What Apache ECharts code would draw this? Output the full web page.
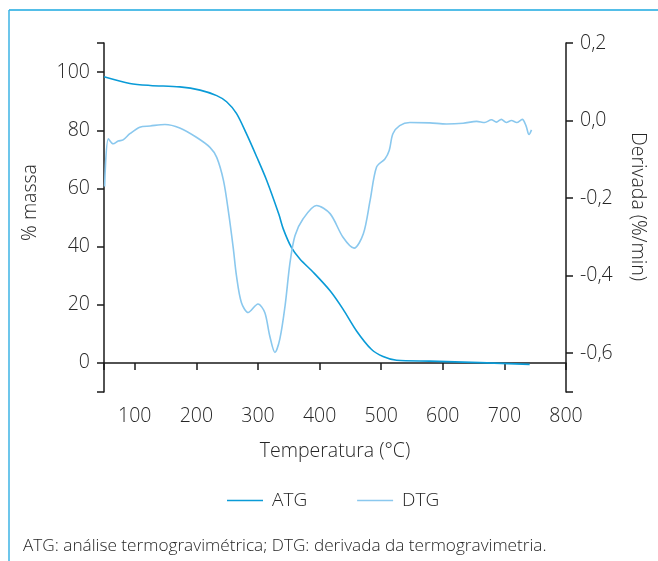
<!DOCTYPE html>
<html>
<head>
<meta charset="utf-8">
<script src="https://cdn.jsdelivr.net/npm/echarts@6/dist/echarts.min.js"></script>
<style>
html,body{margin:0;padding:0;background:#fff;}
#chart{width:658px;height:561px;}
</style>
</head>
<body>
<div id="chart"></div>
<script>
// Temperature (°C) and mass (%) for ATG
const tempATG = [50, 92, 125, 173, 206, 233, 249, 265, 281, 298, 314, 334, 341, 354, 368, 390, 417, 438, 460, 484, 503, 525, 579, 660, 741];
const massATG = [98.4, 96.1, 95.4, 94.9, 93.8, 91.9, 89.8, 85.8, 78.9, 70.8, 62.8, 51.0, 46.1, 39.8, 35.7, 31.1, 24.8, 18.5, 11.0, 4.7, 2.2, 0.9, 0.6, 0.1, -0.5];

// Temperature (°C) and derivative (%/min) for DTG
const tempDTG = [51, 57, 65, 73, 81, 92, 108, 125, 149, 173, 200, 222, 233, 244, 252, 260, 265, 273, 284, 300, 311, 319, 327.5, 335.5, 344, 352, 360, 373, 395, 417, 438, 456, 471, 482, 492.5, 506, 513, 519, 530, 546.5, 579, 606, 633, 655, 668, 679, 687, 695, 703, 711.5, 720, 729, 735, 740, 744];
const derivDTG = [-0.17, -0.047, -0.060, -0.053, -0.050, -0.034, -0.017, -0.014, -0.010, -0.019, -0.043, -0.069, -0.095, -0.155, -0.235, -0.331, -0.400, -0.469, -0.495, -0.473, -0.495, -0.555, -0.598, -0.563, -0.477, -0.366, -0.297, -0.254, -0.219, -0.240, -0.301, -0.329, -0.292, -0.206, -0.120, -0.099, -0.077, -0.034, -0.013, -0.005, -0.006, -0.009, -0.007, -0.002, -0.005, 0.002, -0.004, 0.003, -0.005, 0.000, -0.005, 0.003, -0.013, -0.036, -0.024];

// Axis ticks and labels
const xTicks = [50, 100, 200, 300, 400, 500, 600, 700, 800];
const xLabels = [100, 200, 300, 400, 500, 600, 700, 800];
const yLeftTicks = [-10, 0, 20, 40, 60, 80, 100, 110];
const yLeftLabels = [0, 20, 40, 60, 80, 100];
const yRightTicks = [-0.7, -0.6, -0.4, -0.2, 0, 0.2];
const yRightLabels = [-0.6, -0.4, -0.2, 0, 0.2];

const seriesNames = ['ATG', 'DTG'];
const footnote = 'ATG: análise termogravimétrica; DTG: derivada da termogravimetria.';

const FONT = '"Open Sans"';
const TXT = '#262626';
const AXIS = '#1a1a1a';
const W = 300;

const chart = echarts.init(document.getElementById('chart'), null, {renderer: 'canvas'});

const axisCommon = {
  axisLine: {show: true, lineStyle: {color: AXIS, width: 1.5}},
  splitLine: {show: false},
  axisLabel: {color: TXT, fontSize: 19.5, fontFamily: FONT, fontWeight: W, margin: 14},
  nameTextStyle: {color: TXT, fontSize: 19.5, fontFamily: FONT, fontWeight: W}
};

const option = {
  animation: false,
  backgroundColor: '#ffffff',
  textStyle: {fontFamily: FONT},
  title: {
    text: footnote,
    left: 18,
    top: 533,
    textStyle: {color: TXT, fontSize: 17.2, fontFamily: FONT, fontWeight: W}
  },
  legend: {
    data: seriesNames,
    icon: 'rect',
    left: 222,
    top: 486,
    itemWidth: 36,
    itemHeight: 1.5,
    itemGap: 50,
    textStyle: {color: TXT, fontSize: 19, fontFamily: FONT, fontWeight: W, padding: [0, 0, 0, 4]}
  },
  grid: {
    left: 104, right: 92, top: 43, bottom: 169,
    containLabel: false,
    outerBoundsMode: 'none'
  },
  xAxis: {
    type: 'value',
    min: 50, max: 800,
    name: 'Temperatura (°C)',
    nameLocation: 'middle',
    nameGap: 49,
    ...axisCommon,
    axisTick: {show: true, inside: false, length: 7, lineStyle: {color: AXIS, width: 1.5}, customValues: xTicks},
    axisLabel: {...axisCommon.axisLabel, customValues: xLabels}
  },
  yAxis: [
    {
      type: 'value',
      position: 'left',
      min: -10, max: 110,
      name: '% massa',
      nameLocation: 'middle',
      nameGap: 64,
      ...axisCommon,
      nameTextStyle: {...axisCommon.nameTextStyle, padding: [0, 0, 0, 30]},
      axisTick: {show: true, inside: false, length: 7, lineStyle: {color: AXIS, width: 1.5}, customValues: yLeftTicks},
      axisLabel: {...axisCommon.axisLabel, customValues: yLeftLabels}
    },
    {
      type: 'value',
      position: 'right',
      min: -0.7, max: 0.2,
      name: 'Derivada (%/min)',
      nameLocation: 'middle',
      nameRotate: -90,
      nameGap: 62,
      ...axisCommon,
      nameTextStyle: {...axisCommon.nameTextStyle, padding: [0, 22, 0, 0]},
      axisTick: {show: true, inside: false, length: 7, lineStyle: {color: AXIS, width: 1.5}, customValues: yRightTicks},
      axisLabel: {
        ...axisCommon.axisLabel,
        customValues: yRightLabels,
        formatter: function (v) {
          const r = Math.round(v * 10) / 10;
          return (r === 0 ? '0.0' : r.toFixed(1)).replace('.', ',');
        }
      }
    }
  ],
  series: [
    {
      name: seriesNames[0],
      type: 'line',
      yAxisIndex: 0,
      symbol: 'none',
      smooth: 0.3,
      lineStyle: {color: '#0a9bd7', width: 1.6},
      itemStyle: {color: '#0a9bd7'},
      data: tempATG.map((t, i) => [t, massATG[i]])
    },
    {
      name: seriesNames[1],
      type: 'line',
      yAxisIndex: 1,
      symbol: 'none',
      smooth: 0.3,
      lineStyle: {color: '#8ac8ee', width: 1.6},
      itemStyle: {color: '#8ac8ee'},
      data: tempDTG.map((t, i) => [t, derivDTG[i]])
    }
  ],
  graphic: [
    {type: 'line', shape: {x1: 9, y1: 10, x2: 658, y2: 10}, style: {stroke: '#1aa8e0', lineWidth: 1.5}, silent: true},
    {type: 'line', shape: {x1: 9, y1: 10, x2: 9, y2: 561}, style: {stroke: '#3cb3e4', lineWidth: 1.5}, silent: true}
  ]
};

chart.setOption(option);
</script>
</body>
</html>
